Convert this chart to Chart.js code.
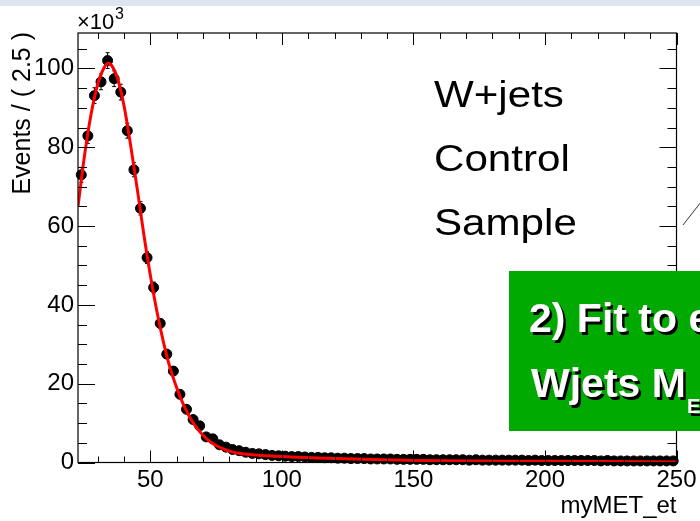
<!DOCTYPE html>
<html lang="en">
<head>
<meta charset="UTF-8">
<title>W+jets control sample - myMET_et</title>
<script src="https://cdn.jsdelivr.net/npm/chart.js"></script>
<style>
  html, body { margin: 0; padding: 0; background: #fff; }
</style>
</head>
<body>
<canvas id="metChart" width="700" height="521"></canvas>
<script>
// bin centres of the 2.5 GeV bins
const binCenters = [
  23.75, 26.25, 28.75, 31.25, 33.75, 36.25, 38.75, 41.25, 43.75, 46.25,
  48.75, 51.25, 53.75, 56.25, 58.75, 61.25, 63.75, 66.25, 68.75, 71.25,
  73.75, 76.25, 78.75, 81.25, 83.75, 86.25, 88.75, 91.25, 93.75, 96.25,
  98.75, 101.25, 103.75, 106.25, 108.75, 111.25, 113.75, 116.25, 118.75, 121.25,
  123.75, 126.25, 128.75, 131.25, 133.75, 136.25, 138.75, 141.25, 143.75, 146.25,
  148.75, 151.25, 153.75, 156.25, 158.75, 161.25, 163.75, 166.25, 168.75, 171.25,
  173.75, 176.25, 178.75, 181.25, 183.75, 186.25, 188.75, 191.25, 193.75, 196.25,
  198.75, 201.25, 203.75, 206.25, 208.75, 211.25, 213.75, 216.25, 218.75, 221.25,
  223.75, 226.25, 228.75, 231.25, 233.75, 236.25, 238.75, 241.25, 243.75, 246.25,
  248.75
];

// events per bin, in units of 10^3
const eventsK = [
  73.0, 82.9, 93.1, 96.6, 102.0, 97.4, 94.0, 84.2, 74.3, 64.5,
  52.0, 44.4, 35.3, 27.5, 23.2, 17.3, 13.5, 10.9, 9.3, 6.5,
  6.0, 4.5, 3.9, 3.3, 3.0, 2.6, 2.3, 2.2, 2.0, 1.8,
  1.7, 1.6, 1.5, 1.5, 1.4, 1.3, 1.3, 1.2, 1.2, 1.1,
  1.1, 1.0, 1.0, 1.0, 0.9, 0.9, 0.9, 0.9, 0.8, 0.8,
  0.8, 0.8, 0.8, 0.7, 0.7, 0.7, 0.7, 0.7, 0.7, 0.6,
  0.7, 0.6, 0.6, 0.6, 0.6, 0.6, 0.6, 0.6, 0.5, 0.6,
  0.5, 0.5, 0.5, 0.5, 0.5, 0.5, 0.5, 0.5, 0.5, 0.4,
  0.5, 0.4, 0.4, 0.4, 0.4, 0.4, 0.4, 0.4, 0.4, 0.4,
  0.4
];

// per-bin uncertainty, same units
const errorsK = [
  1.9, 1.9, 2.0, 2.0, 2.0, 2.0, 2.0, 1.9, 1.8, 1.7,
  1.5, 1.4, 1.2, 1.1, 1.0, 0.9, 0.8, 0.7, 0.6, 0.5,
  0.5, 0.4, 0.4, 0.3, 0.3, 0.3, 0.3, 0.3, 0.3, 0.2,
  0.2, 0.2, 0.2, 0.2, 0.2, 0.2, 0.2, 0.2, 0.2, 0.2,
  0.2, 0.2, 0.2, 0.2, 0.2, 0.2, 0.2, 0.2, 0.2, 0.2,
  0.2, 0.2, 0.2, 0.2, 0.2, 0.2, 0.2, 0.2, 0.2, 0.2,
  0.2, 0.2, 0.2, 0.2, 0.2, 0.2, 0.2, 0.2, 0.2, 0.2,
  0.2, 0.2, 0.2, 0.2, 0.2, 0.2, 0.2, 0.2, 0.2, 0.2,
  0.2, 0.2, 0.2, 0.2, 0.2, 0.2, 0.2, 0.2, 0.2, 0.2,
  0.2
];

// fitted shape, sampled along myMET_et
const fitX = [22.5, 25, 27.5, 30, 32.5, 34, 35, 37.5, 40, 42.5, 45, 47.5, 50, 52.5, 55,
  57.5, 60, 62.5, 65, 67.5, 70, 72.5, 75, 77.5, 80, 85, 90, 100, 120, 150, 200, 250];
const fitY = [65, 78, 88.5, 96, 100.3, 101.3, 101, 97.5, 90.5, 80.5, 69.5, 58, 47.5, 38.3, 30.5,
  24, 19, 14.8, 11.5, 8.9, 6.9, 5.4, 4.3, 3.5, 2.9, 2.2, 1.9, 1.5, 1.0, 0.5, 0.3, 0.15];

const xTicks = [50, 100, 150, 200, 250];
const yTicks = [0, 20, 40, 60, 80, 100];
const sampleLines = ['W+jets', 'Control', 'Sample'];

const FONT = '"Liberation Sans", Arial, Helvetica, sans-serif';

const points = binCenters.map((x, i) => ({ x: x, y: eventsK[i] }));
const fitPoints = fitX.map((x, i) => ({ x: x, y: fitY[i] }));

// ROOT-like frame, inward ticks, error bars and pad decorations
const rootPad = {
  id: 'rootPad',
  beforeDraw(chart) {
    const ctx = chart.ctx;
    ctx.save();
    ctx.fillStyle = '#fff';
    ctx.fillRect(0, 0, chart.width, chart.height);
    ctx.fillStyle = '#dee5f0';
    ctx.fillRect(0, 0, chart.width, 6);
    ctx.restore();
  },
  beforeDatasetsDraw(chart) {
    const ctx = chart.ctx, xs = chart.scales.x, ys = chart.scales.y;
    ctx.save();
    ctx.strokeStyle = '#000';
    ctx.lineWidth = 1;
    binCenters.forEach((x, i) => {
      const px = xs.getPixelForValue(x);
      const y1 = ys.getPixelForValue(eventsK[i] - errorsK[i]);
      const y2 = ys.getPixelForValue(eventsK[i] + errorsK[i]);
      ctx.beginPath();
      ctx.moveTo(px, y1); ctx.lineTo(px, y2);
      ctx.moveTo(px - 2, y1); ctx.lineTo(px + 2, y1);
      ctx.moveTo(px - 2, y2); ctx.lineTo(px + 2, y2);
      ctx.stroke();
    });
    ctx.restore();
  },
  afterDatasetsDraw(chart) {
    const ctx = chart.ctx, a = chart.chartArea;
    const xs = chart.scales.x, ys = chart.scales.y;
    ctx.save();
    ctx.strokeStyle = '#000';
    ctx.lineWidth = 1.2;
    ctx.strokeRect(a.left, a.top, a.right - a.left, a.bottom - a.top);
    ctx.lineWidth = 1;
    ctx.beginPath();
    for (let v = 30; v <= xs.max; v += 10) {
      const px = Math.round(xs.getPixelForValue(v)) + 0.5;
      const len = v % 50 === 0 ? 12 : 6;
      ctx.moveTo(px, a.bottom); ctx.lineTo(px, a.bottom - len);
      ctx.moveTo(px, a.top); ctx.lineTo(px, a.top + len);
    }
    for (let v = 0; v <= ys.max; v += 5) {
      const py = Math.round(ys.getPixelForValue(v)) + 0.5;
      const len = v % 20 === 0 ? 17 : 9;
      ctx.moveTo(a.left, py); ctx.lineTo(a.left + len, py);
      ctx.moveTo(a.right, py); ctx.lineTo(a.right - len, py);
    }
    ctx.stroke();
    ctx.restore();
  },
  afterDraw(chart) {
    const ctx = chart.ctx, a = chart.chartArea;
    ctx.save();
    ctx.fillStyle = '#000';
    ctx.textBaseline = 'alphabetic';

    // exponent of the y axis
    ctx.textAlign = 'left';
    ctx.font = '22px ' + FONT;
    ctx.fillText('\u00d710', a.left - 1, 29);
    ctx.font = '16px ' + FONT;
    ctx.fillText('3', a.left + 37, 19);

    // axis titles
    ctx.font = '25px ' + FONT;
    ctx.save();
    ctx.translate(30, a.top - 1);
    ctx.rotate(-Math.PI / 2);
    ctx.textAlign = 'right';
    ctx.fillText('Events / ( 2.5 )', 0, 0);
    ctx.restore();
    ctx.textAlign = 'right';
    ctx.font = '24px ' + FONT;
    ctx.fillText('myMET_et', a.right, 513);

    // sample label
    ctx.textAlign = 'left';
    ctx.font = '36px ' + FONT;
    sampleLines.forEach((t, i) => {
      ctx.save();
      ctx.translate(434, 106.5 + i * 64);
      ctx.scale(1.17, 1);
      ctx.fillText(t, 0, 0);
      ctx.restore();
    });

    // thin pointer line at the right border
    ctx.strokeStyle = '#333';
    ctx.lineWidth = 1;
    ctx.beginPath();
    ctx.moveTo(683, 225); ctx.lineTo(701, 202);
    ctx.stroke();

    // green note box
    ctx.fillStyle = '#00aa00';
    ctx.fillRect(509, 271, 200, 160);
    const shadowText = (t, x, y) => {
      ctx.fillStyle = '#000';
      ctx.fillText(t, x + 2.5, y + 2.5);
      ctx.fillStyle = '#fff';
      ctx.fillText(t, x, y);
    };
    ctx.font = 'bold 41px ' + FONT;
    shadowText('2) Fit to extract', 529, 332);
    shadowText('Wjets M', 531, 397);
    const mw = ctx.measureText('Wjets M').width;
    ctx.font = 'bold 20px ' + FONT;
    shadowText('ET', 531 + mw + 1, 413);
    ctx.restore();
  }
};

new Chart(document.getElementById('metChart'), {
  type: 'scatter',
  data: {
    datasets: [{
      label: 'fit',
      data: fitPoints,
      showLine: true,
      borderColor: '#ff0000',
      borderWidth: 3,
      pointRadius: 0,
      cubicInterpolationMode: 'monotone',
      fill: false
    }, {
      label: 'data',
      data: points,
      backgroundColor: '#000',
      borderColor: '#000',
      pointRadius: 5,
      pointHoverRadius: 5,
      clip: false
    }]
  },
  options: {
    responsive: false,
    animation: false,
    events: [],
    layout: { padding: { left: 0, right: 23.5, top: 33, bottom: 0 } },
    plugins: { legend: { display: false }, tooltip: { enabled: false } },
    scales: {
      x: {
        type: 'linear',
        min: 22.5,
        max: 250,
        afterFit: s => { s.height = 58.5; },
        afterBuildTicks: s => { s.ticks = xTicks.map(v => ({ value: v })); },
        grid: { display: false, drawTicks: false },
        border: { display: false },
        ticks: {
          font: { family: FONT, size: 24 },
          color: '#000',
          padding: 3,
          maxRotation: 0,
          autoSkip: false
        }
      },
      y: {
        type: 'linear',
        min: 0,
        max: 109,
        afterFit: s => { s.width = 78; },
        afterBuildTicks: s => { s.ticks = yTicks.map(v => ({ value: v })); },
        grid: { display: false, drawTicks: false },
        border: { display: false },
        ticks: {
          font: { family: FONT, size: 24 },
          color: '#000',
          padding: 4
        }
      }
    }
  },
  plugins: [rootPad]
});
</script>
</body>
</html>
